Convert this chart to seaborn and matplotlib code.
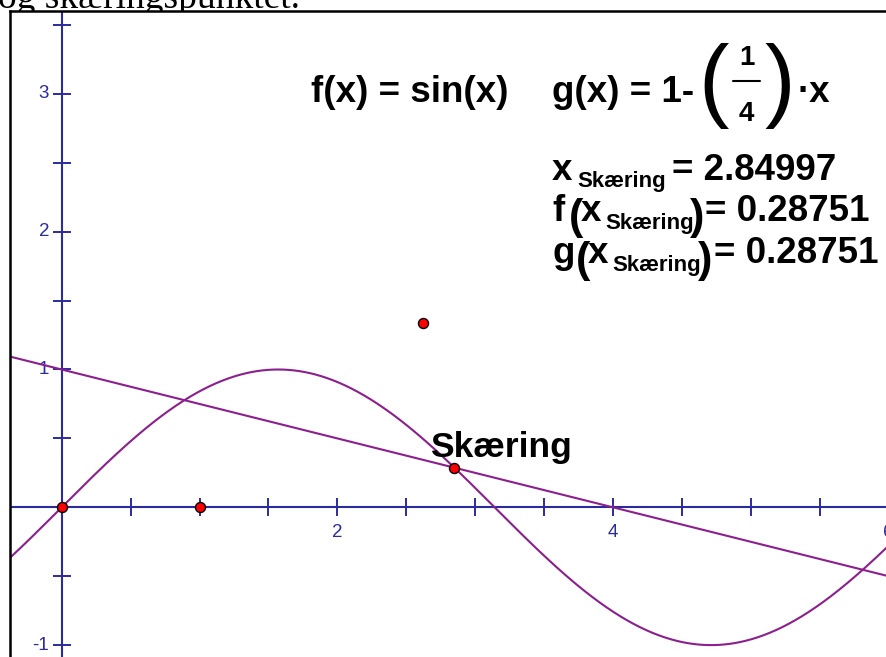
import numpy as np
import matplotlib
matplotlib.use("Agg")
import matplotlib.pyplot as plt
from matplotlib.lines import Line2D
import seaborn as sns

# ---- functions and points of the sketch ----
def f(x):
    return np.sin(x)


def g(x):
    return 1 - x / 4


x_grid = np.linspace(-0.6, 6.2, 900)
point_x = [0.0, 1.0, 2.62, 2.84997]
point_y = [0.0, 0.0, 1.335, 0.28751]
x_skaering = 2.84997
y_skaering = 0.28751

x_ticks = [0.5, 1.0, 1.5, 2.0, 2.5, 3.0, 3.5, 4.0, 4.5, 5.0, 5.5, 6.0]
y_ticks = [-1.0, -0.5, 0.5, 1.0, 1.5, 2.0, 2.5, 3.0, 3.5]
x_tick_labels = {2: "2", 4: "4", 6: "6"}
y_tick_labels = {-1: "-1", 1: "1", 2: "2", 3: "3"}

# ---- styling ----
sns.set_theme(style="white")
plt.rcParams["font.family"] = ["Liberation Sans", "DejaVu Sans"]

AXIS_BLUE = "#2B2BA0"
CURVE = "#8C1F8E"
W, H = 886, 657
ORIGIN_X, ORIGIN_Y, UNIT = 61.7, 507.3, 137.8   # screen layout of the grid
FRAME_L, FRAME_T = 9.5, 11.3

fig = plt.figure(figsize=(W / 100, H / 100), dpi=100)
fig.patch.set_facecolor("white")

ax = fig.add_axes([FRAME_L / W, 0, (W - FRAME_L) / W, (H - FRAME_T) / H])
ax.set_facecolor("white")
ax.set_xlim((FRAME_L - ORIGIN_X) / UNIT, (W - ORIGIN_X) / UNIT)
ax.set_ylim((ORIGIN_Y - H) / UNIT, (ORIGIN_Y - FRAME_T) / UNIT)
ax.set_xticks([])
ax.set_yticks([])
for side in ("right", "bottom"):
    ax.spines[side].set_visible(False)
for side in ("left", "top"):
    ax.spines[side].set_color("black")
    ax.spines[side].set_linewidth(1.8)

# coordinate axes with cross ticks
ax.axhline(0, color=AXIS_BLUE, lw=1.5, zorder=1)
ax.axvline(0, color=AXIS_BLUE, lw=1.5, zorder=1)
ax.plot(x_ticks, np.zeros(len(x_ticks)), ls="none", marker="|", ms=13,
        mew=1.4, color=AXIS_BLUE, zorder=1)
ax.plot(np.zeros(len(y_ticks)), y_ticks, ls="none", marker="_", ms=13,
        mew=1.4, color=AXIS_BLUE, zorder=1)
for v, s in x_tick_labels.items():
    ax.annotate(s, (v, 0), xytext=(0, -25), textcoords="offset pixels",
                ha="center", va="center", fontsize=13.5, color=AXIS_BLUE,
                annotation_clip=False, zorder=1)
for v, s in y_tick_labels.items():
    ax.annotate(s, (0, v), xytext=(-12.5, 0), textcoords="offset pixels",
                ha="right", va="center", fontsize=13.5, color=AXIS_BLUE,
                annotation_clip=False, zorder=1)

# graphs
sns.lineplot(x=x_grid, y=f(x_grid), ax=ax, color=CURVE, lw=1.5,
             errorbar=None, sort=False, zorder=2)
sns.lineplot(x=x_grid, y=g(x_grid), ax=ax, color=CURVE, lw=1.5,
             errorbar=None, sort=False, zorder=2)

# points
sns.scatterplot(x=point_x, y=point_y, ax=ax, s=52, color="red",
                edgecolor="black", linewidth=1.0, zorder=5)
ax.annotate("Skæring", (x_skaering, y_skaering), xytext=(-24, 10.5),
            textcoords="offset pixels", ha="left", va="baseline",
            fontsize=25.5, fontweight="bold", color="black", zorder=4)


# ---- formula texts, placed in screen pixels ----
def put(px, py, s, size, weight="bold", **kw):
    fig.text(px / W, 1 - py / H, s, fontsize=size, fontweight=weight,
             ha="left", va="baseline", color="black", **kw)


BIG = 26.5
SUB = 16

put(311, 102, "f(x) = sin(x)", BIG)

put(552, 102, "g(x) = 1-", BIG)
put(698, 110, "(", 66, weight="normal")
put(739, 65, "1", 20)
put(739, 121, "4", 20)
fig.add_artist(Line2D([733 / W, 760 / W], [1 - 81 / H] * 2,
                      color="black", lw=1.5))
put(764, 110, ")", 66, weight="normal")
put(797, 102, "·x", BIG)

put(552, 180, "x", BIG)
put(577, 187, "Skæring", SUB)
put(672, 180, f"= {x_skaering:.5f}", BIG)

put(552, 221, "f", BIG)
put(569, 229, "(", 31)
put(581, 221, "x", BIG)
put(605, 229, "Skæring", SUB)
put(690, 229, ")", 31)
put(705, 221, f"= {y_skaering:.5f}", BIG)

put(552, 263, "g", BIG)
put(576, 272, "(", 31)
put(588, 263, "x", BIG)
put(612, 271, "Skæring", SUB)
put(698, 272, ")", 31)
put(714, 263, f"= {y_skaering:.5f}", BIG)

# line of running text above the sketch, partly hidden by the frame
fig.text(-2 / W, 1 - 7.5 / H, "og skæringspunktet.", fontsize=27,
         family=["Liberation Serif", "DejaVu Serif"], ha="left",
         va="baseline", color="black", zorder=-1)

fig.savefig("out.png", dpi=100, facecolor="white")
